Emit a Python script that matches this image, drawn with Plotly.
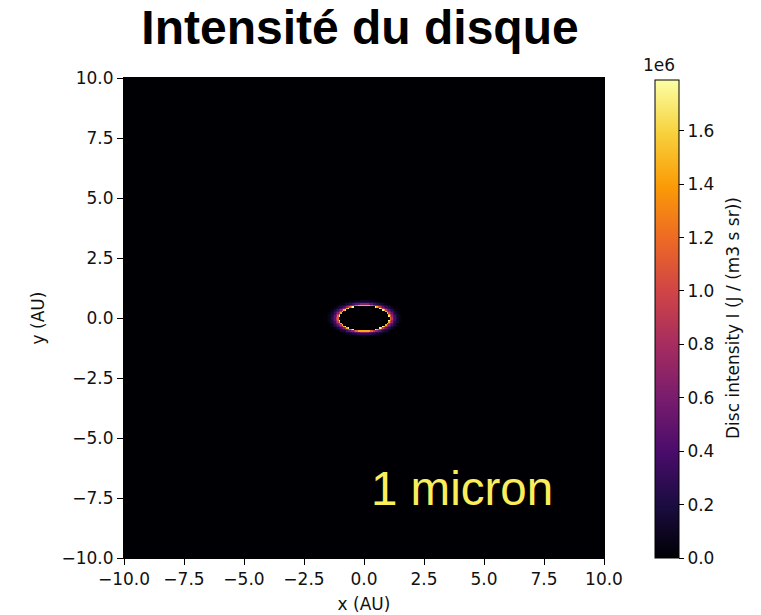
import numpy as np
import plotly.graph_objects as go

# Image grid (AU) and disc geometry
grid_cells = 320
extent_au = 10.0
cos_incl = 0.5  # apparent minor/major axis ratio of the ring

# Radial intensity profile in the disc plane: each bin starts at radius_au[k]
radius_au = [1.04, 1.06, 1.09, 1.12, 1.16, 1.20, 1.25, 1.30, 1.35, 1.40, 1.45, 1.51, 1.57]
intensity = [1.76e6, 1.45e6, 1.15e6, 0.90e6, 0.68e6, 0.50e6, 0.36e6, 0.25e6, 0.17e6,
             0.11e6, 0.06e6, 0.03e6, 0.0]

# Axis ticks
axis_ticks = [-10.0, -7.5, -5.0, -2.5, 0.0, 2.5, 5.0, 7.5, 10.0]
cbar_ticks = [0.0, 0.2e6, 0.4e6, 0.6e6, 0.8e6, 1.0e6, 1.2e6, 1.4e6, 1.6e6]
cbar_text = ["0.0", "0.2", "0.4", "0.6", "0.8", "1.0", "1.2", "1.4", "1.6"]

cell = 2 * extent_au / grid_cells
centers = -extent_au + cell * (np.arange(grid_cells) + 0.5)
X, Y = np.meshgrid(centers, centers)
r_disc = np.sqrt(X ** 2 + (Y / cos_incl) ** 2)

# Step lookup of the radial profile (no interpolation)
edges = np.array(radius_au)
vals = np.array(intensity)
idx = np.searchsorted(edges, r_disc, side="right") - 1
Z = np.where(idx >= 0, vals[np.clip(idx, 0, len(vals) - 1)], 0.0)

W, H = 761, 615
L, R, T, B = 124, 604, 78, 558
pw, ph = R - L, B - T

small = dict(family="DejaVu Sans", size=17, color="#111")

fig = go.Figure()
fig.add_trace(go.Heatmap(
    x=centers, y=centers, z=Z,
    colorscale="Inferno", zmin=0, zmax=1.79e6,
    hoverinfo="skip",
    colorbar=dict(
        x=(655 - L) / pw, xanchor="left", xref="paper",
        y=(B - 319) / ph, yanchor="middle",
        len=(558 - 80) / ph, lenmode="fraction",
        thickness=24, thicknessmode="pixels",
        outlinecolor="black", outlinewidth=1,
        ticks="outside", ticklen=5, tickwidth=1, tickcolor="black",
        tickvals=cbar_ticks, ticktext=cbar_text,
        tickfont=small,
        xpad=0, ypad=0,
    ),
))

axis_common = dict(
    tickvals=axis_ticks, tickformat=".1f", ticks="outside", ticklen=6,
    tickwidth=1, tickcolor="black", showgrid=False, zeroline=False,
    showline=True, linecolor="black", linewidth=1, mirror=True,
    tickfont=small,
)
fig.update_xaxes(range=[-10, 10], title=dict(text="x (AU)", font=small, standoff=9),
                 **axis_common)
fig.update_yaxes(range=[-10, 10], title=dict(text="y (AU)", font=small, standoff=12),
                 **axis_common)

fig.add_annotation(
    x=0.2, y=-7.1, xref="x", yref="y", xanchor="left", yanchor="middle",
    text="1 micron", showarrow=False,
    font=dict(family="Liberation Sans, Arial", size=47.5, color="#fbee5b"),
)
fig.add_annotation(
    x=(733 - L) / pw, y=(B - 318) / ph, xref="paper", yref="paper",
    xanchor="center", yanchor="middle", textangle=-90,
    text="Disc intensity I (J / (m3 s sr))", showarrow=False,
    font=small,
)
fig.add_annotation(
    x=(659 - L) / pw, y=(B - 65) / ph, xref="paper", yref="paper",
    xanchor="center", yanchor="middle",
    text="1e6", showarrow=False,
    font=small,
)

fig.update_layout(
    width=W, height=H,
    margin=dict(l=L, r=W - R, t=T, b=H - B, autoexpand=False),
    paper_bgcolor="white", plot_bgcolor="black",
    title=dict(
        text="<b>Intensité du disque</b>",
        x=360 / W, xanchor="center", xref="container",
        y=1 - 27 / H, yanchor="middle", yref="container",
        font=dict(family="Liberation Sans, Arial", size=48, color="black"),
    ),
    showlegend=False,
)

fig.write_html("out.html")
